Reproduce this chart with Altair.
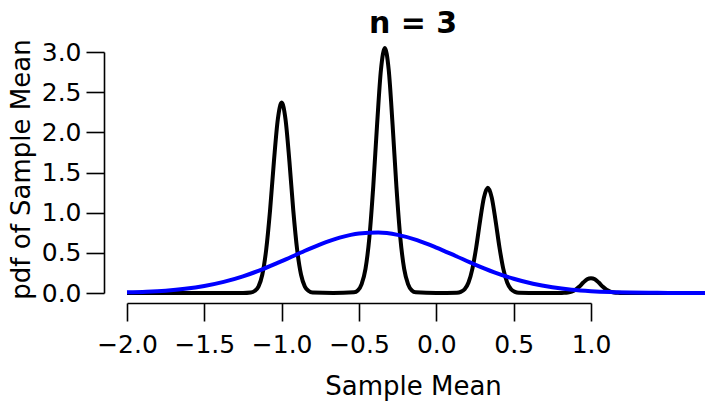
import altair as alt
import pandas as pd

# Black curve: pdf of the sample mean (n = 3)
black_x = [-2.0, -1.5, -1.25,
           -1.2, -1.175, -1.15, -1.125, -1.1, -1.075, -1.05, -1.025, -1.0,
           -0.975, -0.95, -0.925, -0.9, -0.875, -0.85, -0.825, -0.8,
           -0.667,
           -0.533, -0.508, -0.483, -0.458, -0.433, -0.408, -0.383, -0.358, -0.333,
           -0.308, -0.283, -0.258, -0.233, -0.208, -0.183, -0.158, -0.133,
           0.0,
           0.133, 0.158, 0.183, 0.208, 0.233, 0.258, 0.283, 0.308, 0.333,
           0.358, 0.383, 0.408, 0.433, 0.458, 0.483, 0.508, 0.533,
           0.667,
           0.8, 0.825, 0.85, 0.875, 0.9, 0.925, 0.95, 0.975, 1.0,
           1.025, 1.05, 1.075, 1.1, 1.125, 1.15, 1.175, 1.2,
           1.5, 1.75]
black_y = [0.0, 0.0, 0.0,
           0.006, 0.025, 0.08, 0.23, 0.54, 1.03, 1.64, 2.16, 2.37,
           2.16, 1.64, 1.03, 0.54, 0.23, 0.08, 0.025, 0.006,
           0.0,
           0.008, 0.03, 0.11, 0.30, 0.69, 1.32, 2.10, 2.78, 3.05,
           2.78, 2.10, 1.32, 0.69, 0.30, 0.11, 0.03, 0.008,
           0.0,
           0.003, 0.014, 0.046, 0.13, 0.30, 0.57, 0.90, 1.19, 1.31,
           1.19, 0.90, 0.57, 0.30, 0.13, 0.046, 0.014, 0.003,
           0.0,
           0.0, 0.002, 0.007, 0.018, 0.04, 0.08, 0.13, 0.17, 0.185,
           0.17, 0.13, 0.08, 0.04, 0.018, 0.007, 0.002, 0.0,
           0.0, 0.0]

# Blue curve: normal approximation
blue_x = [-2.0, -1.875, -1.75, -1.625, -1.5, -1.375, -1.25, -1.125, -1.0,
          -0.875, -0.75, -0.625, -0.5, -0.375, -0.25, -0.125, 0.0,
          0.125, 0.25, 0.375, 0.5, 0.625, 0.75, 0.875, 1.0,
          1.125, 1.25, 1.375, 1.5, 1.625, 1.75]
blue_y = [0.0078, 0.0155, 0.029, 0.052, 0.087, 0.138, 0.207, 0.295, 0.396,
          0.504, 0.606, 0.689, 0.741, 0.753, 0.724, 0.659, 0.566,
          0.461, 0.354, 0.258, 0.177, 0.115, 0.071, 0.041, 0.023,
          0.012, 0.006, 0.003, 0.001, 0.0005, 0.0002]

x_ticks = [-2.0, -1.5, -1.0, -0.5, 0.0, 0.5, 1.0]
y_ticks = [0.0, 0.5, 1.0, 1.5, 2.0, 2.5, 3.0]
title_text = "n = 3"

FONT = "DejaVu Sans"
LAB = 25
TIT = 26

df_black = pd.DataFrame({"x": black_x, "y": black_y})
df_blue = pd.DataFrame({"x": blue_x, "y": blue_y})

xs = alt.Scale(domain=[-2, 1], nice=False, zero=False)
ys = alt.Scale(domain=[0, 3], nice=False, zero=True)

xaxis = alt.Axis(values=x_ticks, format=".1f", title="Sample Mean", offset=10,
                 tickSize=18, tickWidth=1.6, domainWidth=1.6, labelPadding=11,
                 grid=False, domainColor="black", tickColor="black",
                 labelColor="black", labelFont=FONT, labelFontSize=LAB,
                 labelFlush=False, labelOverlap=False,
                 titleFont=FONT, titleFontSize=TIT, titleFontWeight="normal",
                 titleColor="black", titleX=286, titleY=91,
                 titleBaseline="alphabetic", titleAlign="center")
yaxis = alt.Axis(values=y_ticks, format=".1f", title="pdf of Sample Mean",
                 offset=23, tickSize=18, tickWidth=1.6, domainWidth=1.6,
                 labelPadding=5, grid=False, domainColor="black",
                 tickColor="black", labelColor="black", labelFont=FONT,
                 labelFontSize=LAB, labelFlush=False, labelOverlap=False,
                 titleFont=FONT, titleFontSize=TIT, titleFontWeight="normal",
                 titleColor="black", titleX=-83, titleY=117, titleAngle=-90,
                 titleBaseline="middle", titleAlign="center")

black = alt.Chart(df_black).mark_line(
    color="black", strokeWidth=4, interpolate="monotone"
).encode(x=alt.X("x:Q", scale=xs, axis=xaxis), y=alt.Y("y:Q", scale=ys, axis=yaxis))

blue = alt.Chart(df_blue).mark_line(
    color="#0000FF", strokeWidth=4, interpolate="monotone"
).encode(x=alt.X("x:Q", scale=xs), y=alt.Y("y:Q", scale=ys))

title = alt.Chart(pd.DataFrame({"t": [title_text]})).mark_text(
    font=FONT, fontSize=30, fontWeight="bold", color="black",
    align="center", baseline="alphabetic"
).encode(x=alt.value(286), y=alt.value(-19), text="t:N")

chart = alt.layer(black, blue, title).properties(
    width=464, height=241,
    background="white",
    autosize=alt.AutoSizeParams(type="none"),
    padding={"left": 127, "top": 52, "right": 114, "bottom": 110},
).configure_view(strokeWidth=0, stroke=None)

chart.save("out.html", embed_options={"renderer": "svg", "actions": False})
